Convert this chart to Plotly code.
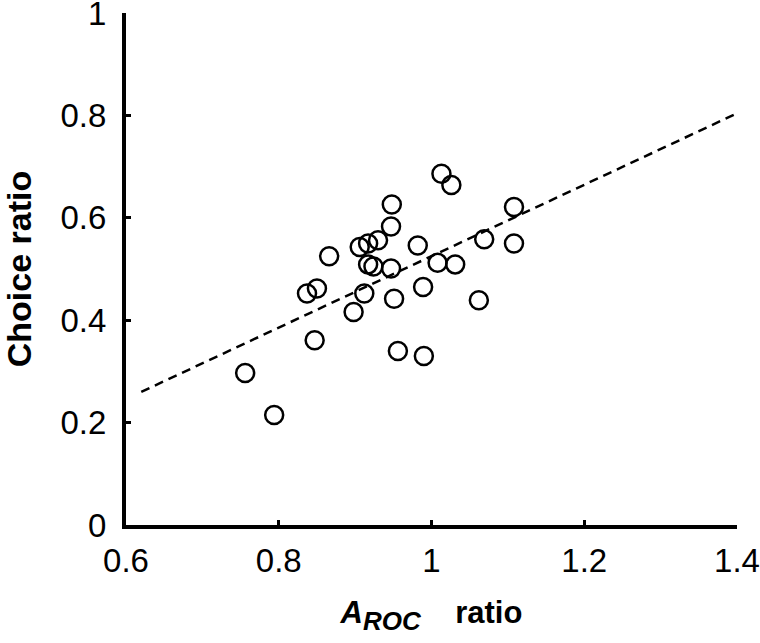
import plotly.graph_objects as go

# Data
aroc_ratio = [1.013, 1.026, 0.948, 0.947, 1.108, 1.108, 1.069, 0.982, 0.930, 0.917,
              0.906, 0.866, 0.917, 0.924, 0.947, 1.008, 1.031, 0.989, 0.912, 0.951,
              0.850, 0.837, 0.898, 1.062, 0.847, 0.956, 0.990, 0.756, 0.794]
choice_ratio = [0.686, 0.664, 0.626, 0.583, 0.621, 0.550, 0.558, 0.546, 0.556, 0.550,
                0.543, 0.525, 0.509, 0.505, 0.501, 0.512, 0.509, 0.465, 0.452, 0.442,
                0.462, 0.452, 0.416, 0.439, 0.361, 0.340, 0.330, 0.297, 0.215]
fit_x = [0.62, 1.40]
fit_y = [0.260, 0.804]

x_ticks = [0.6, 0.8, 1.0, 1.2, 1.4]
x_tick_labels = ["0.6", "0.8", "1", "1.2", "1.4"]
y_ticks = [0, 0.2, 0.4, 0.6, 0.8, 1.0]
y_tick_labels = ["0", "0.2", "0.4", "0.6", "0.8", "1"]

fig = go.Figure()
fig.add_trace(go.Scatter(
    x=fit_x, y=fit_y, mode="lines",
    line=dict(color="black", width=2.5, dash="9px,6px"),
    showlegend=False, hoverinfo="skip", cliponaxis=False))
fig.add_trace(go.Scatter(
    x=aroc_ratio, y=choice_ratio, mode="markers",
    marker=dict(symbol="circle-open", size=18, color="black",
                line=dict(color="black", width=2.5)),
    showlegend=False))

font_family = "Liberation Sans, Arial, Helvetica, sans-serif"
fig.update_layout(
    width=760, height=643,
    margin=dict(l=126, r=23, t=13, b=118),
    paper_bgcolor="white", plot_bgcolor="white",
    font=dict(family=font_family, color="black", size=33),
    xaxis=dict(range=[0.6, 1.4], tickvals=x_ticks, ticktext=x_tick_labels,
               showgrid=False, zeroline=False, showline=True, linecolor="black",
               linewidth=4, ticks="inside", ticklen=5, tickwidth=3, tickcolor="black",
               tickfont=dict(size=33), ticklabeloverflow="allow", automargin=False,
               ticklabelstandoff=3,
               title=dict(text="<b><i>A</i><sub><i><span style=\"font-size:26px\">ROC</span></i></sub>&nbsp;&nbsp;&nbsp; ratio</b>",
                          font=dict(size=31), standoff=25)),
    yaxis=dict(range=[0, 1], tickvals=y_ticks, ticktext=y_tick_labels,
               showgrid=False, zeroline=False, showline=True, linecolor="black",
               linewidth=4, ticks="inside", ticklen=5, tickwidth=3, tickcolor="black",
               tickfont=dict(size=33), ticklabeloverflow="allow", automargin=False,
               ticklabelstandoff=9,
               title=dict(text="<b>Choice ratio</b>", font=dict(size=34), standoff=43)),
)

fig.write_html("out.html", config={"displayModeBar": False},
               post_script="document.body.style.margin='0px';")
